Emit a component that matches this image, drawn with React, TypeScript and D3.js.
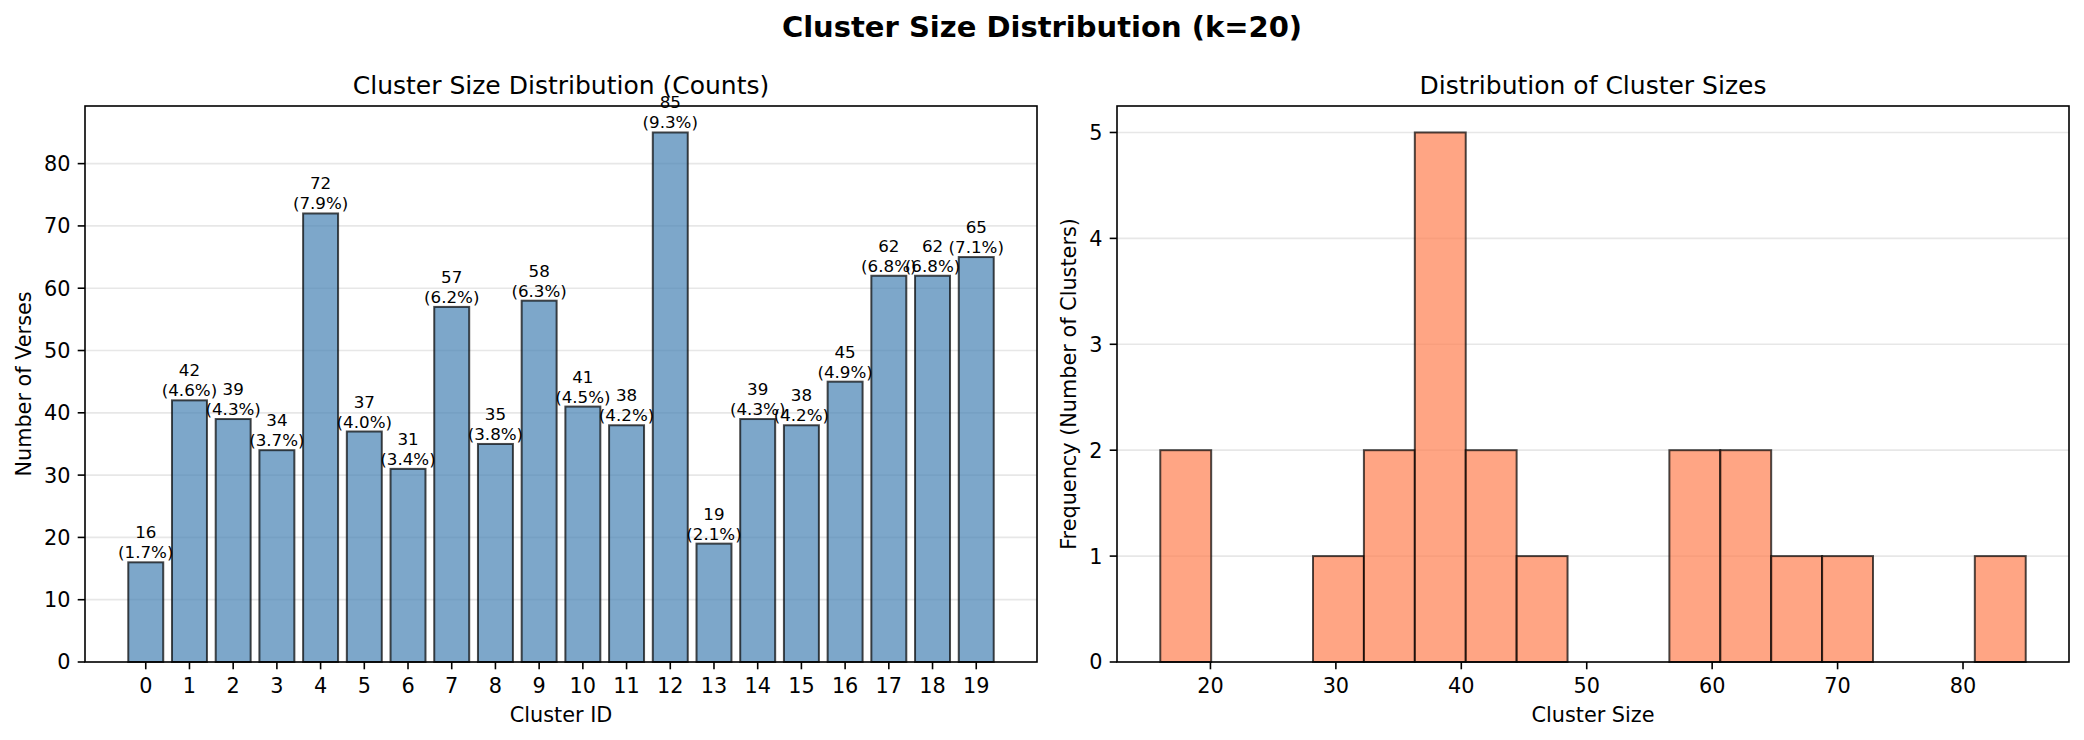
import * as d3 from "d3";

// cluster sizes (verses per cluster), k = 20
const clusterIds = d3.range(20);
const clusterCounts = [16, 42, 39, 34, 72, 37, 31, 57, 35, 58, 41, 38, 85, 19, 39, 38, 45, 62, 62, 65];

const leftYTicks = [0, 10, 20, 30, 40, 50, 60, 70, 80];
const rightXTicks = [20, 30, 40, 50, 60, 70, 80];
const rightYTicks = [0, 1, 2, 3, 4, 5];
const histBins = 17;

const W = 2084;
const H = 740;
const FONT = "DejaVu Sans, sans-serif";

const left = { x0: 85, x1: 1037, y0: 106, y1: 662 };
const right = { x0: 1117, x1: 2069, y0: 106, y1: 662 };

const TICK = 7.3;
const PAD = 7.3;
const TICK_FS = 20.8;

export default function App() {
  const total = d3.sum(clusterCounts);
  const pct = d3.format(".1f");

  // left: bar chart
  const xL = d3.scaleLinear().domain([-1.39, 20.39]).range([left.x0, left.x1]);
  const yL = d3
    .scaleLinear()
    .domain([0, d3.max(clusterCounts)! * 1.05])
    .range([left.y1, left.y0]);
  const barW = xL(0.8) - xL(0);

  // right: histogram of cluster sizes
  const [mn, mx] = d3.extent(clusterCounts) as [number, number];
  const step = (mx - mn) / histBins;
  const bins = d3
    .bin()
    .domain([mn, mx])
    .thresholds(d3.range(1, histBins).map((i) => mn + i * step))(clusterCounts);
  const pad = (mx - mn) * 0.05;
  const xR = d3.scaleLinear().domain([mn - pad, mx + pad]).range([right.x0, right.x1]);
  const yR = d3
    .scaleLinear()
    .domain([0, d3.max(bins, (b) => b.length)! * 1.05])
    .range([right.y1, right.y0]);

  const frame = (a: typeof left) => (
    <rect
      x={a.x0}
      y={a.y0}
      width={a.x1 - a.x0}
      height={a.y1 - a.y0}
      fill="none"
      stroke="#000"
      strokeWidth={1.6}
    />
  );

  return (
    <svg
      width={W}
      height={H}
      style={{ position: "absolute", left: 0, top: 0, background: "#fff" }}
      fontFamily={FONT}
    >
      <rect width={W} height={H} fill="#fff" />
      <text x={W / 2} y={37} textAnchor="middle" fontSize={29} fontWeight="bold">
        Cluster Size Distribution (k=20)
      </text>

      {/* ---- left panel ---- */}
      <g>
        {leftYTicks.map((t) => (
          <line
            key={t}
            x1={left.x0}
            x2={left.x1}
            y1={yL(t)}
            y2={yL(t)}
            stroke="#b0b0b0"
            strokeOpacity={0.3}
            strokeWidth={1.67}
          />
        ))}
        {clusterCounts.map((v, i) => (
          <rect
            key={i}
            x={xL(clusterIds[i]) - barW / 2}
            y={yL(v)}
            width={barW}
            height={yL(0) - yL(v)}
            fill="steelblue"
            fillOpacity={0.7}
            stroke="#000"
            strokeOpacity={0.7}
            strokeWidth={2}
          />
        ))}
        {clusterCounts.map((v, i) => (
          <text
            key={i}
            x={xL(clusterIds[i])}
            textAnchor="middle"
            fontSize={16.7}
          >
            <tspan x={xL(clusterIds[i])} y={yL(v) - 24}>
              {v}
            </tspan>
            <tspan x={xL(clusterIds[i])} y={yL(v) - 4}>
              ({pct((v / total) * 100)}%)
            </tspan>
          </text>
        ))}
        {frame(left)}
        {leftYTicks.map((t) => (
          <g key={t}>
            <line x1={left.x0 - TICK} x2={left.x0} y1={yL(t)} y2={yL(t)} stroke="#000" strokeWidth={1.6} />
            <text
              x={left.x0 - TICK - PAD}
              y={yL(t)}
              dy="0.36em"
              textAnchor="end"
              fontSize={TICK_FS}
            >
              {t}
            </text>
          </g>
        ))}
        {clusterIds.map((c) => (
          <g key={c}>
            <line x1={xL(c)} x2={xL(c)} y1={left.y1} y2={left.y1 + TICK} stroke="#000" strokeWidth={1.6} />
            <text x={xL(c)} y={693} textAnchor="middle" fontSize={TICK_FS}>
              {c}
            </text>
          </g>
        ))}
        <text x={(left.x0 + left.x1) / 2} y={722} textAnchor="middle" fontSize={20.8}>
          Cluster ID
        </text>
        <text
          transform={`translate(31,${(left.y0 + left.y1) / 2}) rotate(-90)`}
          textAnchor="middle"
          fontSize={20.8}
        >
          Number of Verses
        </text>
        <text x={(left.x0 + left.x1) / 2} y={94} textAnchor="middle" fontSize={25}>
          Cluster Size Distribution (Counts)
        </text>
      </g>

      {/* ---- right panel ---- */}
      <g>
        {rightYTicks.map((t) => (
          <line
            key={t}
            x1={right.x0}
            x2={right.x1}
            y1={yR(t)}
            y2={yR(t)}
            stroke="#b0b0b0"
            strokeOpacity={0.3}
            strokeWidth={1.67}
          />
        ))}
        {bins
          .filter((b) => b.length > 0)
          .map((b, i) => (
            <rect
              key={i}
              x={xR(b.x0!)}
              y={yR(b.length)}
              width={xR(b.x1!) - xR(b.x0!)}
              height={yR(0) - yR(b.length)}
              fill="coral"
              fillOpacity={0.7}
              stroke="#000"
              strokeOpacity={0.7}
              strokeWidth={2}
            />
          ))}
        {frame(right)}
        {rightYTicks.map((t) => (
          <g key={t}>
            <line x1={right.x0 - TICK} x2={right.x0} y1={yR(t)} y2={yR(t)} stroke="#000" strokeWidth={1.6} />
            <text
              x={right.x0 - TICK - PAD}
              y={yR(t)}
              dy="0.36em"
              textAnchor="end"
              fontSize={TICK_FS}
            >
              {t}
            </text>
          </g>
        ))}
        {rightXTicks.map((t) => (
          <g key={t}>
            <line x1={xR(t)} x2={xR(t)} y1={right.y1} y2={right.y1 + TICK} stroke="#000" strokeWidth={1.6} />
            <text x={xR(t)} y={693} textAnchor="middle" fontSize={TICK_FS}>
              {t}
            </text>
          </g>
        ))}
        <text x={(right.x0 + right.x1) / 2} y={722} textAnchor="middle" fontSize={20.8}>
          Cluster Size
        </text>
        <text
          transform={`translate(1076,${(right.y0 + right.y1) / 2}) rotate(-90)`}
          textAnchor="middle"
          fontSize={20.8}
        >
          Frequency (Number of Clusters)
        </text>
        <text x={(right.x0 + right.x1) / 2} y={94} textAnchor="middle" fontSize={25}>
          Distribution of Cluster Sizes
        </text>
      </g>
    </svg>
  );
}
